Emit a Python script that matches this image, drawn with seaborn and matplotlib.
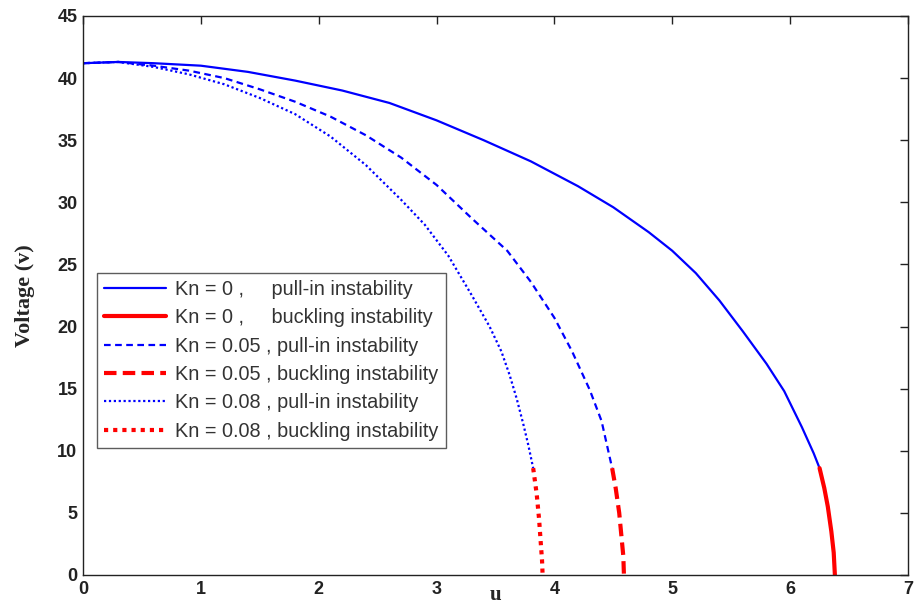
import matplotlib
matplotlib.use("Agg")
import matplotlib.pyplot as plt
import seaborn as sns
import pandas as pd

# ---- data ----
u_kn0_pull = [0, 0.3, 0.6, 1.0, 1.4, 1.8, 2.2, 2.6, 3.0, 3.4, 3.8, 4.2, 4.5, 4.8, 5.0, 5.2, 5.4, 5.6, 5.8, 5.95, 6.1, 6.2, 6.25]
v_kn0_pull = [41.2, 41.3, 41.2, 41.0, 40.5, 39.8, 39.0, 38.0, 36.6, 35.0, 33.3, 31.3, 29.6, 27.6, 26.1, 24.3, 22.1, 19.6, 17.0, 14.8, 11.9, 9.8, 8.6]
u_kn0_buck = [6.25, 6.29, 6.32, 6.35, 6.37, 6.38]
v_kn0_buck = [8.6, 7.0, 5.5, 3.5, 1.8, 0.0]

u_kn05_pull = [0, 0.3, 0.6, 0.9, 1.2, 1.5, 1.8, 2.1, 2.4, 2.7, 3.0, 3.3, 3.6, 3.8, 4.0, 4.15, 4.3, 4.4, 4.49]
v_kn05_pull = [41.2, 41.3, 41.0, 40.6, 40.0, 39.1, 38.1, 36.9, 35.4, 33.6, 31.4, 28.7, 26.1, 23.6, 20.7, 18.0, 14.9, 12.4, 8.6]
u_kn05_buck = [4.49, 4.52, 4.55, 4.57, 4.585, 4.59]
v_kn05_buck = [8.6, 7.0, 5.0, 3.0, 1.5, 0.0]

u_kn08_pull = [0, 0.3, 0.6, 0.9, 1.2, 1.5, 1.8, 2.1, 2.4, 2.7, 2.9, 3.1, 3.3, 3.45, 3.55, 3.62, 3.68, 3.74, 3.78, 3.82]
v_kn08_pull = [41.2, 41.3, 40.9, 40.3, 39.5, 38.4, 37.1, 35.3, 33.0, 30.2, 28.2, 25.7, 22.5, 20.0, 18.0, 16.1, 14.2, 12.0, 10.4, 8.6]
u_kn08_buck = [3.82, 3.85, 3.87, 3.885, 3.895, 3.90]
v_kn08_buck = [8.6, 6.5, 4.5, 2.5, 1.2, 0.0]

labels = [
    "Kn = 0 ,     pull-in instability",
    "Kn = 0 ,     buckling instability",
    "Kn = 0.05 , pull-in instability",
    "Kn = 0.05 , buckling instability",
    "Kn = 0.08 , pull-in instability",
    "Kn = 0.08 , buckling instability",
]
x_ticks = [0, 1, 2, 3, 4, 5, 6, 7]
y_ticks = [0, 5, 10, 15, 20, 25, 30, 35, 40, 45]

series = [
    (u_kn0_pull, v_kn0_pull, "blue", "-", 1.6),
    (u_kn0_buck, v_kn0_buck, "red", "-", 3.0),
    (u_kn05_pull, v_kn05_pull, "blue", (0, (3, 2)), 1.6),
    (u_kn05_buck, v_kn05_buck, "red", (0, (3, 1.5)), 3.0),
    (u_kn08_pull, v_kn08_pull, "blue", (0, (1, 1.2)), 1.6),
    (u_kn08_buck, v_kn08_buck, "red", (0, (1, 1.2)), 3.0),
]

sns.set_style("white")
plt.rcParams["font.family"] = ["Liberation Sans", "DejaVu Sans"]

fig = plt.figure(figsize=(9.23, 6.06), dpi=100)
ax = fig.add_axes([0.0899, 0.0512, 0.8938, 0.9224])

for (u, v, c, ls, lw), lab in zip(series, labels):
    df = pd.DataFrame({"u": u, "V": v})
    sns.lineplot(data=df, x="u", y="V", ax=ax, color=c, linestyle=ls,
                 linewidth=lw, sort=False, estimator=None, label=lab)

ax.set_xlim(0, 7)
ax.set_ylim(0, 45)
ax.set_xticks(x_ticks)
ax.set_yticks(y_ticks)
ax.tick_params(direction="in", length=6, width=1, top=True, right=True,
               labelsize=13, colors="#222222", pad=4)
for lab in ax.get_xticklabels() + ax.get_yticklabels():
    lab.set_fontweight("bold")
    lab.set_family(["Liberation Sans Narrow", "Liberation Sans", "DejaVu Sans"])
for s in ax.spines.values():
    s.set_visible(True)
    s.set_color("#222222")
    s.set_linewidth(1.0)

ax.set_xlabel("u", fontsize=15, fontweight="bold", family="Liberation Serif")
ax.xaxis.label.set_va("baseline")
ax.xaxis.set_label_coords(0.5, -0.0445)
ax.set_ylabel("Voltage (v)", fontsize=16, fontweight="bold", family="Liberation Serif", labelpad=16)

leg = ax.legend(loc="upper left", bbox_to_anchor=(0.017, 0.540), fontsize=14.3,
                frameon=True, fancybox=False, edgecolor="#333333",
                handlelength=3.1, handletextpad=0.5, labelspacing=0.47,
                borderpad=0.35, borderaxespad=0)
leg.get_frame().set_linewidth(1.0)
for t in leg.get_texts():
    t.set_color("#333333")

fig.savefig("out.png", dpi=100)
